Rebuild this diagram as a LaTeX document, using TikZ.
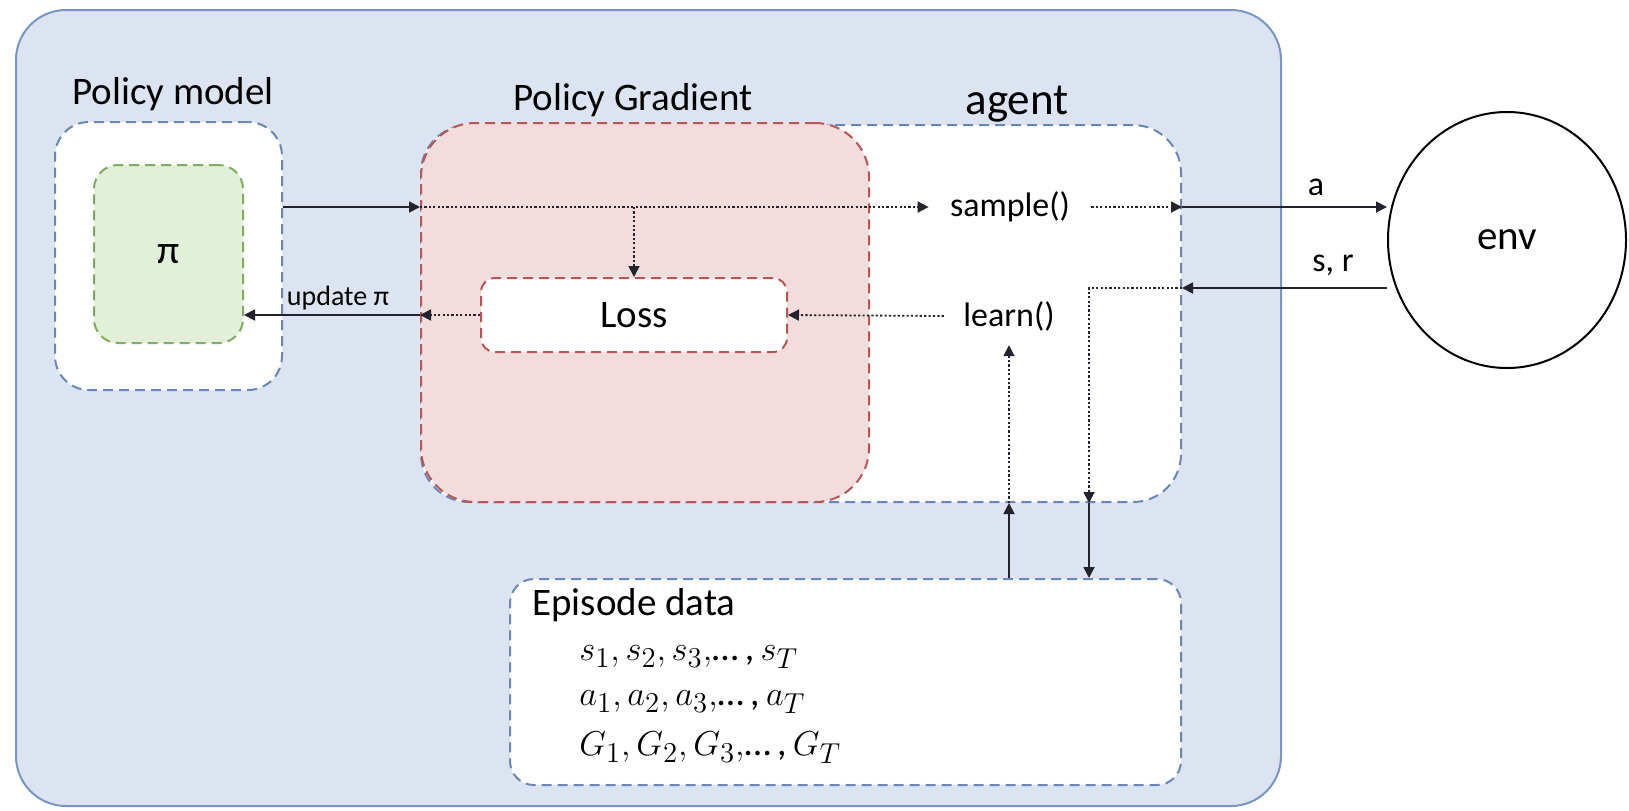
\documentclass[tikz,border=0pt]{standalone}
\usepackage{fontspec}
\setmainfont{Carlito}
\usetikzlibrary{arrows.meta,calc,shapes.geometric}
\definecolor{outerfill}{RGB}{219,228,240}
\definecolor{outerline}{RGB}{120,150,195}
\definecolor{pinkfill}{RGB}{242,221,220}
\definecolor{pinkline}{RGB}{185,85,85}
\definecolor{greenfill}{RGB}{226,239,217}
\definecolor{greenline}{RGB}{130,170,100}
\definecolor{blueline}{RGB}{105,135,185}
\definecolor{arrowcol}{RGB}{35,35,45}
\begin{document}
\begin{tikzpicture}[x=0.5pt,y=-0.5pt,
  box/.style={draw, line width=1pt, dash pattern=on 5pt off 3pt, inner sep=0pt},
  tip/.style={-{Triangle[length=5.5pt,width=5.5pt]}},
  solidarrow/.style={tip, draw=arrowcol, line width=0.9pt},
  dotarrow/.style={tip, draw=arrowcol, line width=0.9pt, dash pattern=on 1.1pt off 1.1pt},
  big/.style={font=\fontsize{19.5}{23}\selectfont, inner sep=0pt},
  mid/.style={font=\fontsize{17}{20}\selectfont, inner sep=0pt},
  smalltxt/.style={font=\fontsize{14}{17}\selectfont, inner sep=0pt},
  mathtxt/.style={font=\fontsize{19}{22}\selectfont, inner sep=0pt, anchor=west}
]
\useasboundingbox[fill=white] (0,0) rectangle (1629,810);
% outer panel
\node[draw=outerline, line width=1pt, fill=outerfill, rounded corners=25pt, inner sep=0pt,
      minimum width=632.5pt, minimum height=398pt] (outer) at (648.5,408) {};
% policy model
\node[box, draw=blueline, fill=white, rounded corners=17pt, minimum width=113.5pt, minimum height=134pt] (pm) at (168.5,256) {};
\node[box, draw=greenline, fill=greenfill, rounded corners=12pt, minimum width=74.5pt, minimum height=89pt,
      font=\fontsize{20}{24}\selectfont] (pi) at (168.5,254) {π};
% agent and policy gradient
\node[box, draw=blueline, fill=white, rounded corners=24pt, minimum width=380pt, minimum height=188.5pt] (ag) at (801,313.5) {};
\node[box, draw=pinkline, fill=pinkfill, rounded corners=27pt, minimum width=224pt, minimum height=189.5pt] (pg) at (645,312.5) {};
\node[box, draw=pinkline, fill=white, rounded corners=7pt, minimum width=153pt, minimum height=37pt,
      font=\fontsize{19.5}{23}\selectfont] (loss) at (634,315) {Loss};
% episode data
\node[box, draw=blueline, fill=white, rounded corners=12pt, minimum width=335.5pt, minimum height=103pt] (ep) at (845.5,682) {};
% environment
\node[ellipse, draw=black, line width=1pt, fill=white, inner sep=0pt, minimum width=119pt, minimum height=128pt,
      font=\fontsize{20.5}{24}\selectfont] (env) at (1507,240) {env};
% titles and labels
\node[big] (pmt) at (173,94) {Policy model};
\node[big] (pgt) at (633,100) {Policy Gradient};
\node[font=\fontsize{22.5}{26}\selectfont, inner sep=0pt] (agt) at (1017,104) {agent};
\node[mid] (smp) at (1010,207) {sample()};
\node[mid] (lrn) at (1009,316) {learn()};
\node[mid] (alab) at (1316,187) {a};
\node[mid] (srlab) at (1333,265) {s, r};
\node[smalltxt] (upd) at (338,298) {update π};
\node[big, anchor=west] (ept) at (532,605) {Episode data};
\node[mathtxt] (l1) at (579,657) {$s_1, s_2, s_3,$…\,,\,$s_T$};
\node[mathtxt] (l2) at (579,702) {$a_1, a_2, a_3,$…\,,\,$a_T$};
\node[mathtxt] (l3) at (579,748) {$G_1, G_2, G_3,$…\,,\,$G_T$};
% connectors
\coordinate (bend) at (1089,288);
\draw[solidarrow] (pm.east |- smp) -- (pg.west |- smp);
\draw[dotarrow] (pg.west |- smp) -- ([xshift=-10.5pt]smp.west);
\draw[dotarrow] (loss.north |- smp) -- (loss.north);
\draw[dotarrow] ([xshift=10.5pt]smp.east) -- (ag.east |- smp);
\draw[solidarrow] (ag.east |- smp) -- (env.west |- smp);
\draw[solidarrow] (env.west |- bend) -- (ag.east |- bend);
\draw[dotarrow] (ag.east |- bend) -- (bend) -- (bend |- ag.south);
\draw[solidarrow] (bend |- ag.south) -- (bend |- ep.north);
\draw[solidarrow] (lrn |- ep.north) -- (lrn |- ag.south);
\draw[dotarrow] (lrn |- ag.south) -- ([yshift=-7pt]lrn.south);
\draw[dotarrow] ([xshift=-9.5pt]lrn.west) -- (loss.east);
\draw[dotarrow] (loss.west) -- (pg.west |- loss);
\draw[solidarrow] (pg.west |- loss) -- (pi.east |- loss);
\end{tikzpicture}
\end{document}
